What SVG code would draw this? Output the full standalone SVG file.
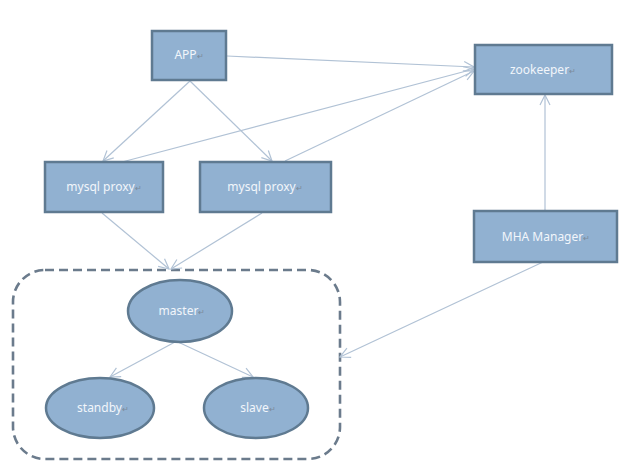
<svg xmlns="http://www.w3.org/2000/svg" width="640" height="471" viewBox="0 0 640 471">
<defs>
<style>
.box{fill:#91b1d1;stroke:#5f7a91;stroke-width:2.5}
.ell{fill:#91b1d1;stroke:#5f7a91;stroke-width:2.5}
.lbl{font-family:"Noto Sans","Open Sans",sans-serif;font-size:12px;fill:#f2f6fb;text-anchor:middle}
.rm{fill:#7c8a99;font-size:8px}
.con{stroke:#b1c2d5;stroke-width:1.2;fill:none;marker-end:url(#ah)}
.grp{fill:none;stroke:#6b7b8c;stroke-width:2.6;stroke-dasharray:9 5}
</style>
<marker id="ah" viewBox="0 0 12 12" refX="11" refY="6" markerWidth="12" markerHeight="12" markerUnits="userSpaceOnUse" orient="auto">
<polyline points="1,1 11,6 1,11" fill="none" stroke="#b1c2d5" stroke-width="1.2"/>
</marker>
</defs>
<rect x="0" y="0" width="640" height="471" fill="#ffffff"/>
<g id="cluster">
<rect class="grp" x="13" y="270" width="327" height="189" rx="32" ry="32"/>
</g>
<g id="connectors">
<line class="con" x1="227" y1="56" x2="474" y2="67"/>
<line class="con" x1="122" y1="162" x2="474" y2="69"/>
<line class="con" x1="285" y1="161" x2="474" y2="71"/>
<line class="con" x1="190" y1="81" x2="103" y2="161"/>
<line class="con" x1="190" y1="81" x2="272" y2="161"/>
<line class="con" x1="102" y1="213" x2="169" y2="269"/>
<line class="con" x1="262" y1="213" x2="171" y2="269"/>
<line class="con" x1="543" y1="262" x2="340" y2="357"/>
<line class="con" x1="545" y1="210" x2="545" y2="95"/>
<line class="con" x1="175" y1="342" x2="110" y2="377"/>
<line class="con" x1="178" y1="342" x2="253" y2="377"/>
</g>
<g id="app">
<rect class="box" x="152" y="31" width="74" height="49"/>
<text class="lbl" x="189" y="59">APP<tspan class="rm">↵</tspan></text>
</g>
<g id="zookeeper">
<rect class="box" x="475" y="45" width="137" height="49"/>
<text class="lbl" x="543" y="74">zookeeper<tspan class="rm">↵</tspan></text>
</g>
<g id="proxy1">
<rect class="box" x="45" y="162" width="118" height="50"/>
<text class="lbl" x="104" y="191">mysql proxy<tspan class="rm">↵</tspan></text>
</g>
<g id="proxy2">
<rect class="box" x="200" y="162" width="131" height="50"/>
<text class="lbl" x="265" y="191">mysql proxy<tspan class="rm">↵</tspan></text>
</g>
<g id="mha">
<rect class="box" x="474" y="211" width="143" height="51"/>
<text class="lbl" x="546" y="241">MHA Manager<tspan class="rm">↵</tspan></text>
</g>
<g id="master">
<ellipse class="ell" cx="180" cy="311" rx="52" ry="31"/>
<text class="lbl" x="182" y="315">master<tspan class="rm">↵</tspan></text>
</g>
<g id="standby">
<ellipse class="ell" cx="100" cy="408" rx="54" ry="30"/>
<text class="lbl" x="103" y="412">standby<tspan class="rm">↵</tspan></text>
</g>
<g id="slave">
<ellipse class="ell" cx="256" cy="408" rx="52" ry="30"/>
<text class="lbl" x="258" y="412">slave<tspan class="rm">↵</tspan></text>
</g>
</svg>
